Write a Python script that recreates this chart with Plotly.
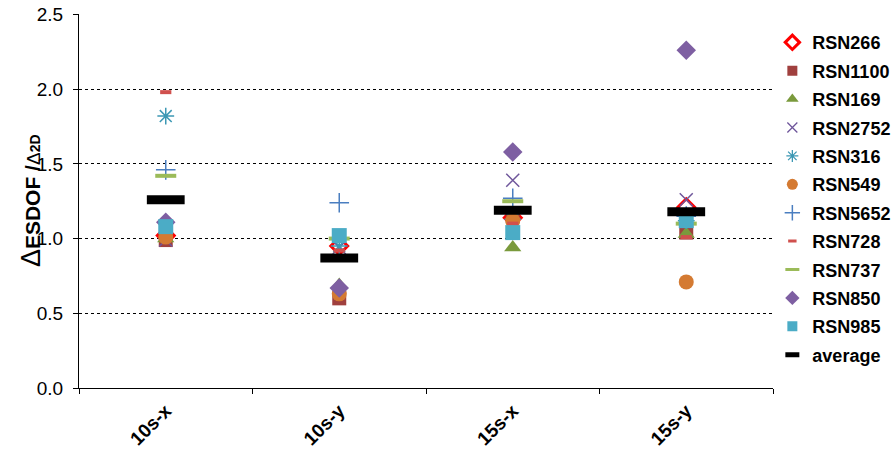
import plotly.graph_objects as go

# Load cases and response ratio per record
categories = ["10s-x", "10s-y", "15s-x", "15s-y"]

rsn266 = [1.02, 0.95, 1.14, 1.21]
rsn1100 = [0.99, 0.60, 1.15, 1.04]
rsn169 = [1.00, 0.69, 0.94, 1.03]
rsn2752 = [0.99, 0.94, 1.39, 1.26]
rsn316 = [1.82, 0.95, 1.13, 1.12]
rsn549 = [1.01, 0.63, 1.12, 0.71]
rsn5652 = [1.46, 1.24, 1.27, 1.15]
rsn728 = [1.98, 0.92, 1.10, 1.01]
rsn737 = [1.42, 1.00, 1.25, 1.10]
rsn850 = [1.11, 0.67, 1.58, 2.26]
rsn985 = [1.08, 1.02, 1.04, 1.12]
average = [1.26, 0.87, 1.19, 1.18]

y_ticks = [0.0, 0.5, 1.0, 1.5, 2.0, 2.5]

# name, values, symbol, colour, (plot size, plot line width), (legend size, legend line width)
series = [
    ("RSN266", rsn266, "diamond-open", "#FF0000", (13, 3), (11, 3)),
    ("RSN1100", rsn1100, "square", "#A0403E", (14, 0), (10, 0)),
    ("RSN169", rsn169, "triangle-up", "#7A9A3C", (15, 0), (11, 0)),
    ("RSN2752", rsn2752, "x-thin-open", "#6F569B", (13, 1.5), (10, 1.3)),
    ("RSN316", rsn316, "asterisk-open", "#3C98B4", (14, 1.5), (10, 1.3)),
    ("RSN549", rsn549, "circle", "#D47A32", (15, 0), (11, 0)),
    ("RSN5652", rsn5652, "cross-thin-open", "#4A7EC0", (14, 1.5), (11, 1.5)),
    ("RSN728", rsn728, "line-ew-open", "#D0504D", (8, 4), (6, 3)),
    ("RSN737", rsn737, "line-ew-open", "#9BBB59", (15, 4), (10, 3)),
    ("RSN850", rsn850, "diamond", "#7E5FA2", (15, 0), (11, 0)),
    ("RSN985", rsn985, "square", "#4BACC6", (15, 0), (10, 0)),
    ("average", average, "line-ew-open", "#000000", (27, 9), (10, 5)),
]

fig = go.Figure()
for i, (name, vals, sym, col, (ps, pw), (ls, lw)) in enumerate(series):
    # data markers
    fig.add_trace(go.Scatter(
        x=categories, y=vals, mode="markers", name=name,
        legendgroup=f"g{i}", showlegend=False,
        marker=dict(symbol=sym, size=ps, color=col,
                    line=dict(color=col, width=pw)),
    ))
    # legend key with smaller symbol
    fig.add_trace(go.Scatter(
        x=[None], y=[None], mode="markers", name=name,
        legendgroup=f"g{i}", showlegend=True, hoverinfo="skip",
        marker=dict(symbol=sym, size=ls, color=col,
                    line=dict(color=col, width=lw)),
    ))

title_html = ("<span style='font-size:27px;font-weight:normal'>Δ</span>"
              "<b>ESDOF /</b>"
              "<span style='font-size:19px;font-weight:normal'>Δ</span>"
              "<b><span style='font-size:14px'>2D</span></b>")

fig.add_annotation(
    text=title_html, textangle=-90, showarrow=False,
    xref="paper", yref="paper", x=-0.069, y=0.5,
    xanchor="center", yanchor="middle",
    font=dict(size=21, family="Liberation Sans, Arial", color="#000000"),
)

fig.update_layout(
    width=896, height=455,
    margin=dict(l=79, r=123, t=14, b=67, pad=0, autoexpand=False),
    paper_bgcolor="white", plot_bgcolor="white",
    font=dict(family="Liberation Sans, Arial", color="#000000"),
    showlegend=True,
    legend=dict(
        xref="container", yref="container",
        x=0.862, xanchor="left", y=0.947, yanchor="top",
        maxheight=440,
        font=dict(size=18, family="Liberation Sans, Arial", weight="bold"),
        tracegroupgap=2, itemwidth=30,
        bgcolor="rgba(0,0,0,0)",
    ),
    xaxis=dict(
        type="category", categoryorder="array", categoryarray=categories,
        range=[-0.5, 3.5], tickson="boundaries", automargin=False,
        showgrid=False, zeroline=False,
        showline=True, linecolor="#000000", linewidth=1.3,
        ticks="outside", ticklen=5, tickcolor="#000000", tickwidth=1.3,
        tickangle=-45, ticklabelstandoff=3,
        tickfont=dict(size=19, family="Liberation Sans, Arial", weight="bold"),
    ),
    yaxis=dict(
        range=[0, 2.503], tickvals=y_ticks, automargin=False,
        ticktext=[f"{v:.1f}" for v in y_ticks],
        showgrid=True, gridcolor="#000000", gridwidth=1, griddash="dot",
        zeroline=False,
        showline=True, linecolor="#000000", linewidth=1.3,
        ticks="outside", ticklen=5, tickcolor="#000000", tickwidth=1.3,
        ticklabelstandoff=6,
        tickfont=dict(size=19, family="Liberation Sans, Arial"),
    ),
)

fig.write_html("out.html")
